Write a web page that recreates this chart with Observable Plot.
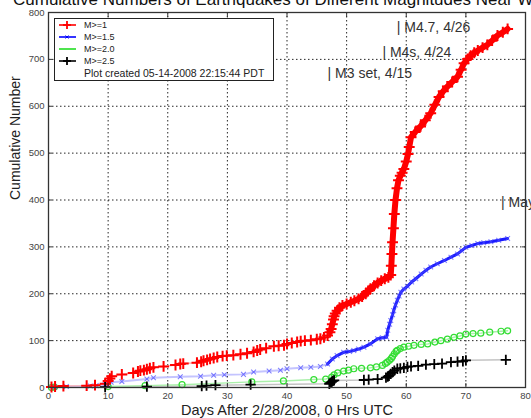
<!DOCTYPE html>
<html><head><meta charset="utf-8">
<script src="https://cdn.jsdelivr.net/npm/d3@7"></script>
<script src="https://cdn.jsdelivr.net/npm/@observablehq/plot@0.6"></script>
<style>
body{margin:0;background:#fff;overflow:hidden;}
#wrap{position:relative;width:531px;height:418px;overflow:hidden;font-family:"Liberation Sans",Arial,sans-serif;}
#chart{position:absolute;left:0;top:0;}
#title{position:absolute;left:13px;top:-9px;font-size:17px;line-height:17px;white-space:nowrap;color:#111;}
#legend{position:absolute;left:54px;top:18px;width:218px;height:61px;border:1px solid #222;background:#fff;}
.row{position:absolute;left:3px;height:12px;display:flex;align-items:center;font-size:9px;color:#222;white-space:nowrap;}
.row svg{margin-right:7px;}
</style></head><body>
<div id="wrap"><div id="chart"></div><div id="title"></div><div id="legend"></div></div>
<script>
const titleText = "Cumulative Numbers of Earthquakes of Different Magnitudes Near West Reno";
const xLabel = "Days After 2/28/2008, 0 Hrs UTC";
const yLabel = "Cumulative Number";
const xTicks = [0,10,20,30,40,50,60,70,80];
const yTicks = [0,100,200,300,400,500,600,700,800];
const seriesNames = ["M>=1","M>=1.5","M>=2.0","M>=2.5"];
const seriesColors = ["#ff0000","#0000ff","#22dd22","#000000"];
const createdNote = "Plot created 05-14-2008 22:15:44 PDT";

const redDays = [0.5,1.1,2.5,6.4,7.8,9.5,10.0,10.3,10.6,12.3,14.2,15.0,15.4,16.0,16.5,17.0,17.6,19.3,21.3,22.1,22.6,24.9,25.6,26.0,26.6,27.1,27.7,28.3,29.2,29.9,31.0,32.2,33.3,34.4,35.0,35.5,36.5,37.8,38.6,39.5,40.0,40.8,41.7,42.3,43.0,44.0,45.0,45.6,46.2,46.8,47.2,47.4,47.6,47.8,47.9,48.1,48.4,48.8,49.3,50.0,50.7,51.3,52.0,52.6,53.2,53.6,54.0,54.6,55.2,55.8,56.4,57.0,57.4,57.5,57.6,57.7,57.85,58.0,58.2,58.45,58.7,59.0,59.3,59.6,60.0,60.3,60.5,60.8,61.5,62.4,63.2,64.1,64.8,65.5,66.2,66.9,67.7,68.6,69.2,69.7,70.3,70.8,71.4,72.0,72.8,73.6,74.4,75.3,76.2,77.0];
const redCounts = [1,2,3,4,5,8,14,19,24,28,31,34,36,37,39,41,43,45,48,50,51,53,55,57,59,61,63,65,67,68,69,71,73,76,79,81,84,88,89,90,93,95,97,99,100,101,103,104,107,111,118,125,135,145,152,158,164,170,175,178,182,185,189,194,200,206,211,217,223,228,232,235,240,260,285,310,340,370,400,425,442,452,458,466,482,498,513,534,545,557,570,585,603,620,632,642,652,663,678,692,701,708,714,719,725,731,740,751,758,765];

const blueDays = [1.0,3.0,7.0,8.0,9.5,10.0,10.5,12.3,16.5,17.6,22.1,25.5,27.7,29.5,32.7,34.4,37.0,38.9,40.0,42.3,44.0,45.6,46.8,47.6,48.4,49.5,50.5,51.2,52.0,52.9,54.0,55.2,56.0,56.7,56.9,57.2,57.4,57.7,57.9,58.2,58.5,58.8,59.1,59.6,60.2,60.9,61.6,62.5,63.3,64.1,65.2,66.4,67.5,68.6,69.3,70.0,71.0,72.0,73.0,74.2,75.5,77.0];
const blueCounts = [1,2,3,4,6,9,11,13,18,21,23,24,26,27,28,33,35,37,40,42,43,45,50,61,68,75,77,79,82,86,93,104,106,107,122,135,143,155,164,176,186,195,203,210,216,225,232,242,250,257,264,271,278,285,292,299,303,307,309,311,314,318];

const greenDays = [0.5,1.0,10.0,16.2,22.4,34.1,39.4,44.5,46.5,47.5,47.9,48.5,49.5,50.3,51.2,52.5,54.0,55.0,56.0,56.5,56.8,57.2,57.5,57.7,58.0,58.3,58.5,59.0,59.6,60.4,61.3,62.5,63.6,64.8,65.8,66.9,68.0,69.0,70.0,71.2,72.5,74.0,75.9,77.0];
const greenCounts = [0,1,2,4,6,12,14,17,18,22,27,31,35,37,40,41,42,44,47,51,54,58,62,66,72,77,79,83,86,88,90,92,93,97,100,103,107,110,114,115,116,118,120,121];

const blackDays = [9.5,16.5,25.7,26.5,28.0,33.9,47.1,47.3,47.5,47.7,47.9,52.9,53.7,55.2,56.6,56.9,57.1,57.4,57.7,58.0,58.5,59.0,59.6,60.2,60.8,62.0,63.3,64.7,66.0,67.5,68.6,69.5,70.0,76.7];
const blackCounts = [1,2,3,4,5,6,8,10,12,14,15,16,17,18,21,23,25,29,33,36,40,41,42,44,45,46,49,50,51,54,55,56,58,59];

const annoText = ["| M4.7, 4/26","| M4s, 4/24","| M3 set, 4/15","| May 11"];
const annoDay = [58.4,56.0,46.8,75.9];
const annoCount = [768,715,670,395];

const pts = (days, counts) => days.map((d,i)=>({day:d, n:counts[i]}));
const red = pts(redDays, redCounts);
const blue = pts(blueDays, blueCounts);
const green = pts(greenDays, greenCounts);
const black = pts(blackDays, blackCounts);
const annos = annoText.map((t,i)=>({t, day:annoDay[i], n:annoCount[i]}));

const gridStyle = {stroke:"#000", strokeOpacity:0.85, strokeDasharray:"1.5,2.5", strokeWidth:1};
const noText = () => "";

const chart = Plot.plot({
  width:531, height:418,
  marginLeft:48, marginRight:6, marginTop:12, marginBottom:31,
  style:{fontFamily:"'Liberation Sans', Arial, sans-serif", fontSize:"9px", color:"#444", background:"white"},
  x:{domain:[0,80], label:null},
  y:{domain:[0,800], label:null},
  marks:[
    Plot.gridX(xTicks, gridStyle),
    Plot.gridY(yTicks, gridStyle),
    Plot.line(black, {x:"day", y:"n", stroke:"#c4c4c4", strokeWidth:1.5}),
    Plot.line(green, {x:"day", y:"n", stroke:"#aaf0aa", strokeWidth:1.5}),
    Plot.line(blue, {x:"day", y:"n", stroke:"#c4c4ff", strokeWidth:2}),
    Plot.line(blue.filter(d=>d.day>=46.8), {x:"day", y:"n", stroke:"#1a1aff", strokeWidth:3}),
    Plot.line(red, {x:"day", y:"n", stroke:"#ffb0b0", strokeWidth:1.5}),
    Plot.line(red.filter(d=>d.day>=47), {x:"day", y:"n", stroke:"#ff0000", strokeWidth:6}),
    Plot.dot(green, {x:"day", y:"n", r:3, stroke:"#33dd33", strokeWidth:1.2, fill:"none"}),
    Plot.dot(blue, {x:"day", y:"n", symbol:"times", r:2.3, stroke:"#4a4aff", strokeOpacity:0.7, strokeWidth:1.1}),
    Plot.dot(red, {x:"day", y:"n", symbol:"plus", r:3.6, stroke:"#ff0000", strokeWidth:2}),
    Plot.dot(black, {x:"day", y:"n", symbol:"plus", r:3.4, stroke:"#000", strokeWidth:1.8}),
    Plot.text(annos, {x:"day", y:"n", text:"t", textAnchor:"start", fontSize:14, fill:"#333"}),
    Plot.frame({stroke:"#333", strokeWidth:1.3}),
    Plot.axisX(xTicks, {anchor:"bottom", tickSize:4, dy:-4, tickFormat:noText, label:null, stroke:"#333"}),
    Plot.axisX(xTicks, {anchor:"top", tickSize:4, dy:4, tickFormat:noText, label:null, stroke:"#333"}),
    Plot.axisY(yTicks, {anchor:"left", tickSize:4, dx:4, tickFormat:noText, label:null, stroke:"#333"}),
    Plot.axisY(yTicks, {anchor:"right", tickSize:4, dx:-4, tickFormat:noText, label:null, stroke:"#333"}),
    Plot.axisX(xTicks, {anchor:"bottom", tickSize:0, tickPadding:5, label:null, fontSize:9.5}),
    Plot.axisY(yTicks, {anchor:"left", tickSize:0, tickPadding:4, label:null, fontSize:9.5}),
    Plot.text([xLabel], {frameAnchor:"bottom", dy:23, text:d=>d, fontSize:14.5, lineAnchor:"middle", fill:"#222"}),
    Plot.text([yLabel], {frameAnchor:"left", dx:-33, rotate:-90, text:d=>d, fontSize:14, lineAnchor:"middle", fill:"#222"})
  ]
});
document.getElementById("chart").appendChild(chart);
document.getElementById("title").textContent = titleText;

// legend
const legend = document.getElementById("legend");
const markers = ["plus","times","circle","plus"];
seriesNames.forEach((name,i)=>{
  const row = document.createElement("div");
  row.className = "row";
  row.style.top = (i*12 + 0) + "px";
  const c = seriesColors[i];
  let m = "";
  if (markers[i]==="plus") m = `<line x1="9" y1="1" x2="9" y2="9" stroke="${c}" stroke-width="1.8"/><line x1="5" y1="5" x2="13" y2="5" stroke="${c}" stroke-width="1.8"/>`;
  else if (markers[i]==="times") m = `<line x1="7.5" y1="3.5" x2="10.5" y2="6.5" stroke="${c}" stroke-width="1"/><line x1="7.5" y1="6.5" x2="10.5" y2="3.5" stroke="${c}" stroke-width="1"/>`;
  row.innerHTML = `<svg width="19" height="10"><line x1="1" y1="5" x2="18" y2="5" stroke="${c}" stroke-width="1.6"/>${m}</svg><span>${name.replace(/>/g,"&gt;")}</span>`;
  legend.appendChild(row);
});
const note = document.createElement("div");
note.className = "row";
note.style.top = "48px";
note.style.left = "29px";
note.style.fontSize = "10.5px";
note.textContent = createdNote;
legend.appendChild(note);
</script>
</body></html>
